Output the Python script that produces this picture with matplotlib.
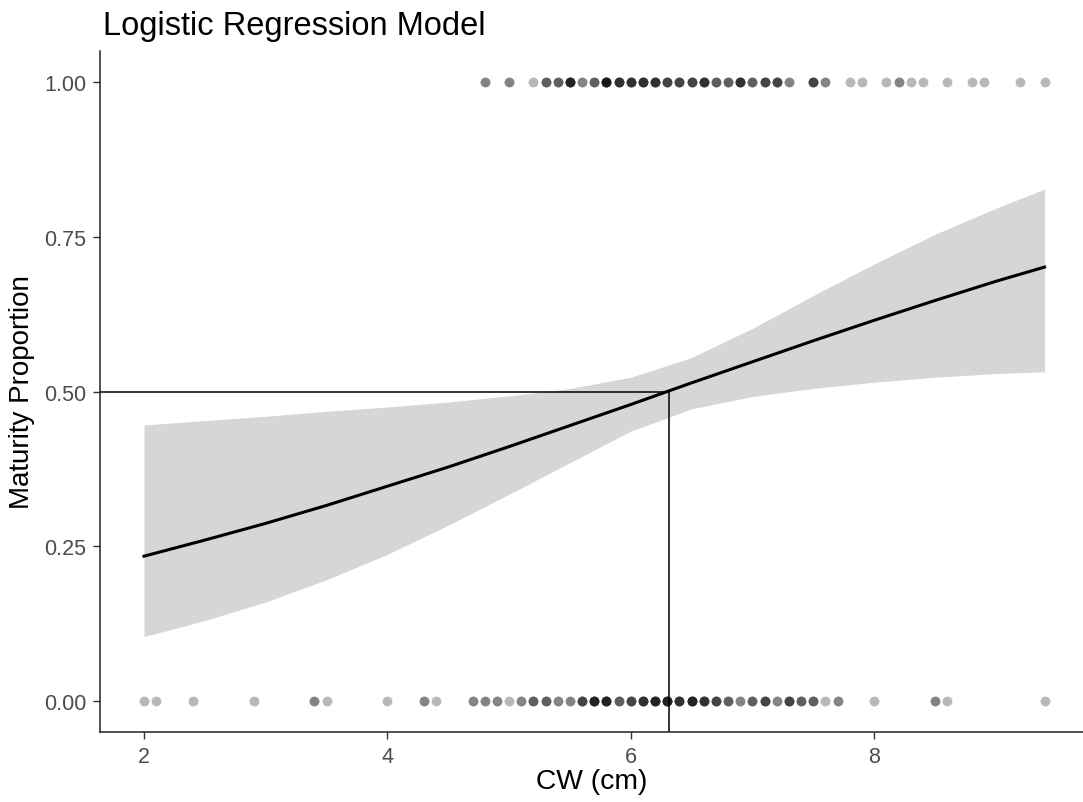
import numpy as np
import matplotlib.pyplot as plt

plt.rcParams['font.family'] = ['Liberation Sans', 'DejaVu Sans']

# observed crabs: carapace width (cm) and how many share that width
mature_cw = [4.8, 5.0, 5.2, 5.3, 5.4, 5.5, 5.6, 5.7, 5.8, 5.9, 6.0, 6.1, 6.2, 6.3,
             6.4, 6.5, 6.6, 6.7, 6.8, 6.9, 7.0, 7.1, 7.2, 7.3, 7.5, 7.6, 7.8, 7.9,
             8.1, 8.2, 8.3, 8.4, 8.6, 8.8, 8.9, 9.2, 9.4]
mature_n = [2, 2, 1, 3, 3, 6, 2, 3, 7, 5, 5, 5, 5, 4,
            4, 4, 5, 3, 3, 5, 3, 4, 4, 2, 4, 2, 1, 1,
            1, 2, 1, 1, 1, 1, 1, 1, 1]

immature_cw = [2.0, 2.1, 2.4, 2.9, 3.4, 3.5, 4.0, 4.3, 4.4, 4.7, 4.8, 4.9, 5.0, 5.1,
               5.2, 5.3, 5.4, 5.5, 5.6, 5.7, 5.8, 5.9, 6.0, 6.1, 6.2, 6.3, 6.4, 6.5,
               6.6, 6.7, 6.8, 6.9, 7.0, 7.1, 7.2, 7.3, 7.4, 7.5, 7.6, 7.7, 8.0, 8.5,
               8.6, 9.4]
immature_n = [1, 1, 1, 1, 2, 1, 1, 2, 1, 2, 2, 2, 1, 2,
              3, 3, 2, 2, 4, 6, 6, 3, 4, 5, 6, 6, 5, 6,
              5, 4, 3, 2, 3, 4, 2, 4, 3, 3, 1, 2, 1, 2,
              1, 1]

# fitted maturity curve with 95% confidence band
fit_cw = [2.0, 2.5, 3.0, 3.5, 4.0, 4.5, 5.0, 5.5, 6.0, 6.5, 7.0, 7.5, 8.0, 8.5, 9.0, 9.4]
fit_p = [0.234, 0.260, 0.287, 0.316, 0.347, 0.378, 0.411, 0.445,
         0.479, 0.514, 0.548, 0.582, 0.615, 0.647, 0.678, 0.701]
fit_lo = [0.104, 0.130, 0.160, 0.196, 0.237, 0.284, 0.334, 0.385,
          0.436, 0.472, 0.492, 0.505, 0.515, 0.523, 0.529, 0.532]
fit_hi = [0.446, 0.453, 0.460, 0.468, 0.475, 0.483, 0.493, 0.505,
          0.523, 0.555, 0.602, 0.655, 0.706, 0.754, 0.796, 0.827]

l50 = 6.31  # width at 50% maturity

yticks = [0.0, 0.25, 0.5, 0.75, 1.0]
ytick_labels = ['0.00', '0.25', '0.50', '0.75', '1.00']
xticks = [2, 4, 6, 8]

fig = plt.figure(figsize=(10.83, 8.03), dpi=100)
ax = fig.add_axes([0.0923, 0.0872, 0.9077, 0.848])
xmin, xmax = 1.638, 9.716
ax.set_xlim(xmin, xmax)
ax.set_ylim(-0.05, 1.05)

ax.fill_between(fit_cw, fit_lo, fit_hi, color='#d6d6d6', linewidth=0, zorder=1)
ax.plot(fit_cw, fit_p, color='black', linewidth=2.2, zorder=3)

x_pts = np.concatenate([np.repeat(mature_cw, mature_n), np.repeat(immature_cw, immature_n)])
y_pts = np.concatenate([np.ones(sum(mature_n)), np.zeros(sum(immature_n))])
ax.scatter(x_pts, y_pts, s=50, color='black', alpha=0.28, linewidths=0, zorder=4)

ax.plot([xmin, l50], [0.5, 0.5], color='black', linewidth=1.1, zorder=2)
ax.plot([l50, l50], [-0.05, 0.5], color='black', linewidth=1.1, zorder=2)

ax.set_xticks(xticks)
ax.set_yticks(yticks)
ax.set_yticklabels(ytick_labels)
ax.tick_params(axis='both', length=5, width=1, color='#333333',
               labelcolor='#4d4d4d', labelsize=15.5, pad=5)

for side in ['top', 'right']:
    ax.spines[side].set_visible(False)
for side in ['left', 'bottom']:
    ax.spines[side].set_linewidth(1.1)
    ax.spines[side].set_color('#222222')

fig.text(0.095, 1 - 35 / 803, 'Logistic Regression Model', fontsize=23.5,
         color='black', ha='left', va='baseline')
fig.text(592 / 1083, 1 - 782 / 803, 'CW (cm)', fontsize=20.3, ha='center', va='center')
fig.text(22 / 1083, 1 - 392 / 803, 'Maturity Proportion', fontsize=20,
         rotation=90, ha='center', va='center')

plt.savefig('out.png', dpi=100)
